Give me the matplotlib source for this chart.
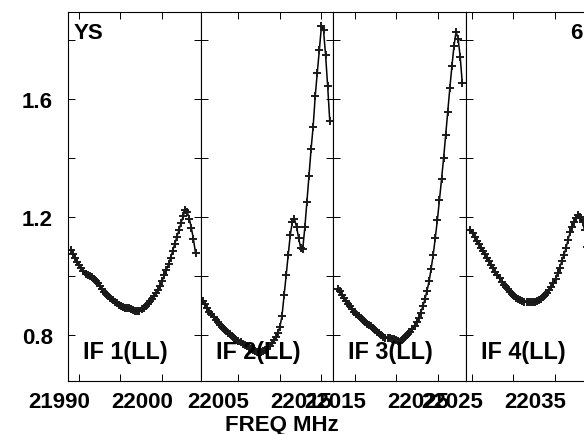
import numpy as np
import matplotlib
matplotlib.use("Agg")
import matplotlib.pyplot as plt
from matplotlib.transforms import blended_transform_factory, offset_copy

# ---------------- data ----------------
if_names = ["IF 1(LL)", "IF 2(LL)", "IF 3(LL)", "IF 4(LL)"]
if_start_freq = [21989.05, 22000.80, 22012.93, 22024.84]   # MHz, first plotted channel
chan_width = 0.25                                          # MHz

amp_if1 = [1.090, 1.076, 1.060, 1.048, 1.036, 1.026, 1.016, 1.008, 1.003, 0.999,
           0.996, 0.991, 0.984, 0.975, 0.965, 0.956, 0.946, 0.938, 0.931, 0.925,
           0.918, 0.912, 0.907, 0.902, 0.898, 0.895, 0.892, 0.891, 0.890, 0.888,
           0.885, 0.883, 0.881, 0.882, 0.887, 0.893, 0.899, 0.906, 0.914, 0.922,
           0.931, 0.942, 0.953, 0.968, 0.985, 1.003, 1.022, 1.040, 1.062, 1.085,
           1.109, 1.133, 1.156, 1.180, 1.203, 1.225, 1.218, 1.195, 1.163, 1.125,
           1.078]

amp_if2 = [0.916, 0.905, 0.891, 0.879, 0.870, 0.861, 0.852, 0.843, 0.833, 0.827,
           0.820, 0.814, 0.808, 0.802, 0.796, 0.789, 0.783, 0.779, 0.775, 0.771,
           0.766, 0.762, 0.757, 0.753, 0.749, 0.745, 0.741, 0.739, 0.741, 0.745,
           0.750, 0.757, 0.764, 0.772, 0.782, 0.793, 0.806, 0.828, 0.865, 0.935,
           1.002, 1.073, 1.140, 1.185, 1.193, 1.168, 1.130, 1.095, 1.093, 1.165,
           1.252, 1.340, 1.430, 1.507, 1.610, 1.690, 1.768, 1.848, 1.835, 1.750,
           1.645, 1.528]

amp_if3 = [0.955, 0.948, 0.937, 0.925, 0.916, 0.906, 0.897, 0.887, 0.878, 0.871,
           0.864, 0.857, 0.850, 0.844, 0.839, 0.835, 0.829, 0.823, 0.816, 0.811,
           0.806, 0.800, 0.794, 0.791, 0.790, 0.789, 0.787, 0.785, 0.782, 0.779,
           0.777, 0.782, 0.789, 0.796, 0.803, 0.810, 0.819, 0.829, 0.843, 0.858,
           0.876, 0.897, 0.921, 0.950, 0.982, 1.025, 1.073, 1.130, 1.190, 1.258,
           1.328, 1.400, 1.478, 1.558, 1.637, 1.712, 1.780, 1.830, 1.805, 1.745,
           1.655]

amp_if4 = [1.157, 1.146, 1.132, 1.120, 1.109, 1.097, 1.086, 1.074, 1.062, 1.050,
           1.039, 1.027, 1.015, 1.004, 0.992, 0.981, 0.971, 0.963, 0.955, 0.946,
           0.939, 0.933, 0.927, 0.922, 0.918, 0.915, 0.913, 0.912, 0.911, 0.911,
           0.911, 0.912, 0.914, 0.918, 0.923, 0.929, 0.935, 0.943, 0.952, 0.962,
           0.976, 0.991, 1.010, 1.029, 1.050, 1.071, 1.094, 1.123, 1.148, 1.168,
           1.185, 1.197, 1.206, 1.200, 1.183, 1.155, 1.100, 1.040]

amplitudes = [amp_if1, amp_if2, amp_if3, amp_if4]

x_labeled_ticks = [[21990, 22000], [22005, 22015], [22015, 22025], [22025, 22035]]
y_labeled_ticks = [0.8, 1.2, 1.6]
y_tick_labels = ["0.8", "1.2", "1.6"]

# ---------------- layout ----------------
W, H = 584, 434
fig = plt.figure(figsize=(W / 100, H / 100), dpi=100)
FONT = "Liberation Sans"

panel_left_px = [67.7, 200.5, 333.2, 466.0]
panel_w_px = 132.8
top_px, bot_px = 12.0, 381.0
xlims = [(21988.65, 22004.65), (22000.48, 22016.48),
         (22012.38, 22028.38), (22024.30, 22040.30)]
ylim = (0.6439, 1.8964)

for k in range(4):
    ax = fig.add_axes([panel_left_px[k] / W, (H - bot_px) / H,
                       panel_w_px / W, (bot_px - top_px) / H])
    freqs = if_start_freq[k] + chan_width * np.arange(len(amplitudes[k]))
    ax.plot(freqs, amplitudes[k], color="black", lw=1.1, marker="+",
            ms=6.4, mew=1.4, mec="#1a1a1a")
    ax.set_xlim(*xlims[k])
    ax.set_ylim(*ylim)

    lo, hi = xlims[k]
    xt = np.arange(np.ceil(lo / 5) * 5, hi, 5)
    ax.set_xticks(xt)
    ax.set_xticklabels([])
    ax.set_yticks([0.8, 1.0, 1.2, 1.4, 1.6, 1.8])
    ax.set_yticklabels([])
    ax.tick_params(direction="in", length=5, width=0.7, top=True, right=True,
                   color="black")
    for s in ax.spines.values():
        s.set_linewidth(0.8)
        s.set_color("black")

    # x tick labels (offset left of the tick as in the reference)
    tr = blended_transform_factory(ax.transData, ax.transAxes)
    tr = offset_copy(tr, fig=fig, x=-20, y=-27, units="dots")
    for t in x_labeled_ticks[k]:
        ax.text(t, 0, str(t), transform=tr, ha="center", va="baseline",
                fontsize=16, fontweight="bold", family=FONT, clip_on=False)

    # IF label
    ax.text(15 / panel_w_px, (bot_px - 359.5) / (bot_px - top_px), if_names[k],
            transform=ax.transAxes, ha="left", va="baseline", fontsize=16.8,
            fontweight="bold", family=FONT)

    if k == 0:
        try_ = blended_transform_factory(ax.transAxes, ax.transData)
        try_ = offset_copy(try_, fig=fig, x=-14.7, y=-8.5, units="dots")
        for v, lab in zip(y_labeled_ticks, y_tick_labels):
            ax.text(0, v, lab, transform=try_, ha="right", va="baseline",
                    fontsize=16, fontweight="bold", family=FONT)

fig.text(74 / W, (H - 39) / H, "YS", ha="left", va="baseline", fontsize=16,
         fontweight="bold", family=FONT)
fig.text(570.5 / W, (H - 39) / H, "6", ha="left", va="baseline", fontsize=16,
         fontweight="bold", family=FONT)
fig.text(281.5 / W, (H - 430.5) / H, "FREQ MHz", ha="center", va="baseline",
         fontsize=16, fontweight="bold", family=FONT)

fig.savefig("out.png", dpi=100, facecolor="white")
